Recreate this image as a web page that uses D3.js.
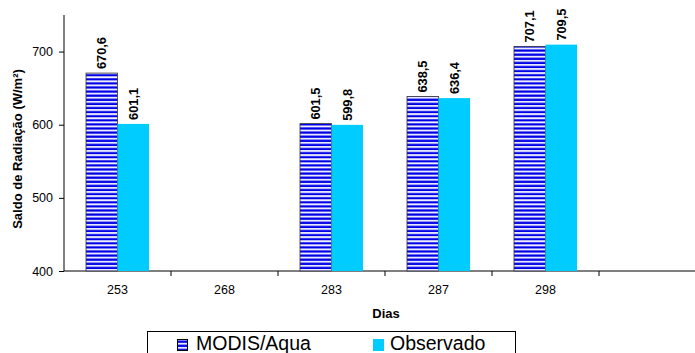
<!DOCTYPE html>
<html><head><meta charset="utf-8">
<script src="https://cdn.jsdelivr.net/npm/d3@7"></script>
<style>body{margin:0;background:#fff}svg{display:block;font-family:Arial,"Liberation Sans",sans-serif}</style>
</head><body>
<svg id="c" width="695" height="353"></svg>
<script>
const categories = ["253","268","283","287","298",""];
const modis = [670.6, null, 601.5, 638.5, 707.1, null];
const observado = [601.1, null, 599.8, 636.4, 709.5, null];
const yTicks = [400, 500, 600, 700];
const seriesNames = ["MODIS/Aqua", "Observado"];

const svg = d3.select("#c");
const defs = svg.append("defs");
const pat = defs.append("pattern").attr("id","stripe").attr("patternUnits","userSpaceOnUse")
  .attr("width",8).attr("height",4.1);
pat.append("rect").attr("width",8).attr("height",4.1).attr("fill","#f0f0ff");
pat.append("rect").attr("y",0.3).attr("width",8).attr("height",2.2).attr("fill","#0000e6");

const x = d3.scaleBand().domain(categories).range([64, 706]).paddingInner(0).paddingOuter(0);
const y = d3.scaleLinear().domain([400, 750]).range([271, 15]);
const bw = 31.5;
const off = (x.bandwidth() - 2*bw)/2;
const fmt = v => v.toFixed(1).replace(".", ",");
const FF = "Arial,'Liberation Sans',sans-serif";

// axes
svg.append("line").attr("x1",64).attr("x2",64).attr("y1",y(750)).attr("y2",y(400)).attr("stroke","#000");
svg.append("line").attr("x1",64).attr("x2",695).attr("y1",y(400)).attr("y2",y(400)).attr("stroke","#000");

const yAxis = svg.append("g").attr("transform","translate(64,0)")
  .call(d3.axisLeft(y).tickValues(yTicks).tickSize(5).tickPadding(6));
yAxis.select(".domain").remove();
yAxis.selectAll("text").attr("font-size",12.5).attr("fill","#000").attr("font-family",FF);
yAxis.selectAll("line").attr("stroke","#000");

const xAxis = svg.append("g").attr("transform",`translate(0,${y(400)})`)
  .call(d3.axisBottom(x).tickSize(0).tickPadding(14));
xAxis.select(".domain").remove();
xAxis.selectAll("text").attr("font-size",12.5).attr("fill","#000").attr("font-family",FF);
svg.selectAll(".xb").data(categories.slice(1)).enter().append("line")
  .attr("x1",d=>x(d)).attr("x2",d=>x(d)).attr("y1",y(400)).attr("y2",y(400)+5).attr("stroke","#000");

// bars
categories.forEach((c,i)=>{
  const x0 = x(c) + off;
  if (modis[i] != null) {
    svg.append("rect").attr("x",x0).attr("y",y(modis[i])).attr("width",bw).attr("height",y(400)-y(modis[i]))
      .attr("fill","url(#stripe)").attr("stroke","#333").attr("stroke-width",0.8);
    svg.append("text").attr("transform",`translate(${x0+bw/2+4.5},${y(modis[i])-4}) rotate(-90)`)
      .attr("font-size",12.8).attr("font-weight","bold").text(fmt(modis[i]));
  }
  if (observado[i] != null) {
    svg.append("rect").attr("x",x0+bw).attr("y",y(observado[i])).attr("width",bw).attr("height",y(400)-y(observado[i]))
      .attr("fill","#00ccff");
    svg.append("text").attr("transform",`translate(${x0+bw*1.5+4.5},${y(observado[i])-4}) rotate(-90)`)
      .attr("font-size",12.8).attr("font-weight","bold").text(fmt(observado[i]));
  }
});

// titles
svg.append("text").attr("transform","translate(22,149) rotate(-90)").attr("text-anchor","middle")
  .attr("font-size",13).attr("font-weight","bold").text("Saldo de Radiação (W/m²)");
svg.append("text").attr("x",386).attr("y",318).attr("text-anchor","middle")
  .attr("font-size",13).attr("font-weight","bold").text("Dias");

// legend
svg.append("rect").attr("x",147.5).attr("y",331.5).attr("width",368).attr("height",30).attr("fill","#fff").attr("stroke","#000");
svg.append("rect").attr("x",177.5).attr("y",339.5).attr("width",10).attr("height",11).attr("fill","url(#stripe)").attr("stroke","#000");
svg.append("text").attr("x",196).attr("y",350).attr("font-size",19.5).text(seriesNames[0]);
svg.append("rect").attr("x",373).attr("y",339).attr("width",11).attr("height",12).attr("fill","#00ccff");
svg.append("text").attr("x",390).attr("y",350).attr("font-size",19.5).text(seriesNames[1]);
</script>
</body></html>
